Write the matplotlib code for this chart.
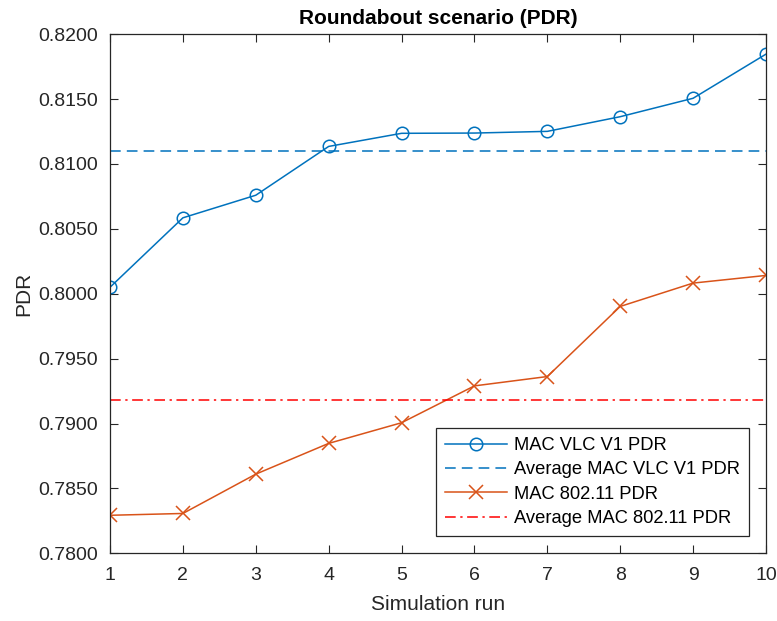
import matplotlib.pyplot as plt
import numpy as np

# simulation runs and PDR values
runs = [1, 2, 3, 4, 5, 6, 7, 8, 9, 10]
vlc_pdr = [0.8005, 0.80585, 0.80759, 0.81135, 0.81236, 0.81238, 0.81251, 0.81364, 0.81506, 0.81846]
wifi_pdr = [0.78293, 0.78307, 0.7861, 0.78847, 0.79006, 0.7929, 0.79362, 0.79902, 0.80082, 0.80141]
yticks = [0.78, 0.785, 0.79, 0.795, 0.80, 0.805, 0.81, 0.815, 0.82]

plt.rcParams['font.family'] = ['Liberation Sans', 'DejaVu Sans']

fig = plt.figure(figsize=(7.77, 6.21), dpi=100)
ax = fig.add_axes([0.1416, 0.109, 0.8442, 0.836])

blue = '#0072BD'
orange = '#D95319'

ax.plot(runs, vlc_pdr, '-o', color=blue, lw=1.1, ms=9, mfc='none', mew=1.1, label='MAC VLC V1 PDR')
ax.axhline(np.mean(vlc_pdr), color=blue, ls=(0, (7, 4)), lw=1.1, label='Average MAC VLC V1 PDR')
ax.plot(runs, wifi_pdr, '-x', color=orange, lw=1.1, ms=10, mew=1.1, label='MAC 802.11 PDR')
ax.axhline(np.mean(wifi_pdr), color='red', ls=(0, (7, 3, 1.5, 3)), lw=1.1, label='Average MAC 802.11 PDR')

ax.set_xlim(1, 10)
ax.set_ylim(0.78, 0.82)
ax.set_xticks(runs)
ax.set_yticks(yticks)
ax.set_yticklabels(['%.4f' % v for v in yticks])

ax.tick_params(direction='in', top=True, right=True, length=6, width=0.8,
               labelsize=14, colors='#262626')
ax.tick_params(axis='y', pad=9)
ax.tick_params(axis='x', pad=10)
for s in ax.spines.values():
    s.set_color('#262626')
    s.set_linewidth(0.9)

ax.set_xlabel('Simulation run', fontsize=15, color='#262626', labelpad=8)
ax.set_ylabel('PDR', fontsize=15, color='#262626', labelpad=3)
ax.set_title('Roundabout scenario (PDR)', fontsize=15, fontweight='bold', pad=7)

leg = ax.legend(loc='lower right', fontsize=13.2, fancybox=False, framealpha=1,
                edgecolor='#262626', borderpad=0.5, labelspacing=0.4, borderaxespad=0,
                handlelength=3.4, handletextpad=0.35, bbox_to_anchor=(0.974, 0.033))
leg.get_frame().set_linewidth(0.9)

fig.savefig('out.png', dpi=100)
